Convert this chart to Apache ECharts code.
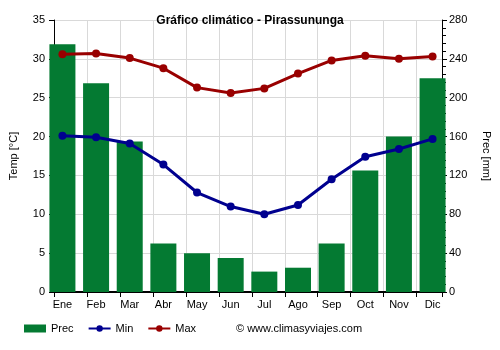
<!DOCTYPE html>
<html>
<head>
<meta charset="utf-8">
<script src="https://cdn.jsdelivr.net/npm/echarts@6/dist/echarts.min.js"></script>
<style>
  html, body { margin: 0; padding: 0; background: #fff; }
  #chart { width: 500px; height: 350px; }
</style>
</head>
<body>
<div id="chart"></div>
<script>
const months = ["Ene", "Feb", "Mar", "Abr", "May", "Jun", "Jul", "Ago", "Sep", "Oct", "Nov", "Dic"];
const prec = [255, 215, 155, 50, 40, 35, 21, 25, 50, 125, 160, 220];
const tempMin = [20.1, 19.9, 19.1, 16.4, 12.8, 11.0, 10.0, 11.2, 14.5, 17.4, 18.4, 19.7];
const tempMax = [30.6, 30.7, 30.1, 28.8, 26.3, 25.6, 26.2, 28.1, 29.8, 30.4, 30.0, 30.3];

const font = "Liberation Sans";
const txt = { color: "#000", fontFamily: font, fontSize: 11 };
const gridColor = "#d9d9d9";

// the source draws marks half a step left of the gridline cells,
// so marks live in grid 0 and the frame (axes, ticks, gridlines) in grid 1
const frameMax = 11.77;

const chart = echarts.init(document.getElementById("chart"));
chart.setOption({
  animation: false,
  textStyle: { fontFamily: font },
  title: {
    text: "Gráfico climático - Pirassununga",
    left: "center",
    top: 10,
    textStyle: { fontSize: 12, fontWeight: "bold", color: "#000", fontFamily: font },
  },
  grid: [
    { left: 45.6, right: 50.6, top: 20, bottom: 58 },
    { left: 49, right: 55, top: 20, bottom: 58 },
  ],
  legend: {
    left: 19,
    bottom: 11,
    itemWidth: 22,
    itemHeight: 8,
    itemGap: 14,
    textStyle: txt,
    data: [
      { name: "Prec", icon: "rect" },
      { name: "Min" },
      { name: "Max" },
    ],
  },
  graphic: [
    {
      type: "text",
      left: 236,
      bottom: 16,
      style: { text: "© www.climasyviajes.com", fill: "#000", font: "11px " + font },
    },
  ],
  xAxis: [
    {
      type: "category",
      gridIndex: 0,
      data: months,
      axisLine: { show: false },
      axisTick: { show: false },
      axisLabel: Object.assign({ margin: 7 }, txt),
      splitLine: { show: false },
    },
    {
      type: "value",
      gridIndex: 1,
      min: 0,
      max: frameMax,
      interval: 1,
      axisLine: { show: true, lineStyle: { color: "#000", width: 2 } },
      axisTick: { show: true, length: 5, lineStyle: { color: "#000" } },
      axisLabel: { show: false },
      splitLine: { show: true, lineStyle: { color: gridColor } },
    },
  ],
  yAxis: [
    { type: "value", gridIndex: 0, min: 0, max: 35, show: false },
    { type: "value", gridIndex: 0, min: 0, max: 280, show: false },
    {
      type: "value",
      gridIndex: 1,
      position: "left",
      min: 0,
      max: 35,
      interval: 5,
      name: "Temp [°C]",
      nameLocation: "middle",
      nameGap: 35,
      nameTextStyle: txt,
      axisLine: { show: true, lineStyle: { color: "#000" } },
      axisTick: { show: true, length: 5, lineStyle: { color: "#000" } },
      axisLabel: Object.assign({ margin: 9 }, txt),
      splitLine: { show: true, lineStyle: { color: gridColor } },
    },
    {
      type: "value",
      gridIndex: 1,
      position: "right",
      min: 0,
      max: 280,
      interval: 40,
      name: "Prec [mm]",
      nameLocation: "middle",
      nameGap: 39,
      nameRotate: -90,
      nameTextStyle: txt,
      axisLine: { show: true, lineStyle: { color: "#000" } },
      axisTick: { show: true, length: 5, lineStyle: { color: "#000" } },
      minorTick: { show: true, splitNumber: 5, length: 4, lineStyle: { color: "#000" } },
      axisLabel: Object.assign({ margin: 7 }, txt),
      splitLine: { show: false },
    },
  ],
  series: [
    {
      name: "Prec",
      type: "bar",
      xAxisIndex: 0,
      yAxisIndex: 1,
      data: prec,
      barWidth: 26,
      itemStyle: { color: "#047a32" },
      z: 3,
    },
    {
      name: "Min",
      type: "line",
      xAxisIndex: 0,
      yAxisIndex: 0,
      data: tempMin,
      symbol: "circle",
      symbolSize: 8,
      lineStyle: { color: "#00008f", width: 3 },
      itemStyle: { color: "#00008f" },
      z: 4,
    },
    {
      name: "Max",
      type: "line",
      xAxisIndex: 0,
      yAxisIndex: 0,
      data: tempMax,
      symbol: "circle",
      symbolSize: 8,
      lineStyle: { color: "#990000", width: 3 },
      itemStyle: { color: "#990000" },
      z: 4,
    },
  ],
});
</script>
</body>
</html>
